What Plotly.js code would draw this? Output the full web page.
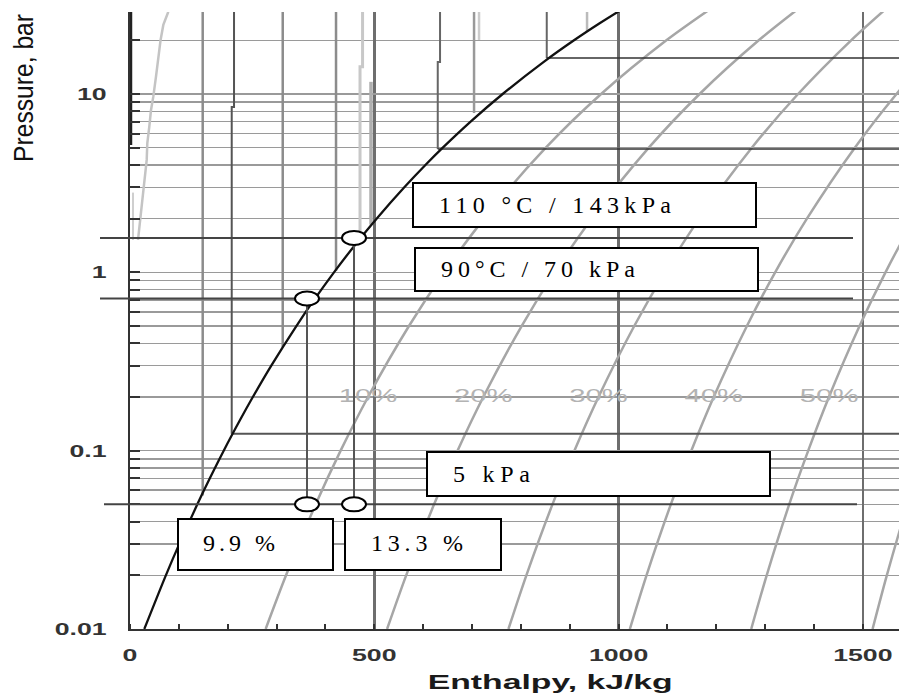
<!DOCTYPE html>
<html>
<head>
<meta charset="utf-8">
<script src="https://cdn.plot.ly/plotly-3.0.1.min.js"></script>
<style>
  html, body { margin: 0; padding: 0; background: #fff; }
  #chart { width: 899px; height: 695px; }
</style>
</head>
<body>
<div id="chart"></div>
<script>
// ---------------- DATA ----------------
// x: enthalpy kJ/kg, y: pressure bar (log axis)
var xTickVals = [0, 500, 1000, 1500];
var xTickText = ['0', '500', '1000', '1500'];
var yTickVals = [0.01, 0.1, 1, 10];
var yTickText = ['0.01', '0.1', '1', '10'];

// saturated liquid line (black)
var satLiquidP = [0.01, 0.02, 0.03, 0.05, 0.07, 0.1, 0.15, 0.2, 0.3, 0.5, 0.7, 1.0, 1.5, 2, 3, 4, 5, 7, 10, 15, 20, 25, 30];
var satLiquidH = [29.3, 73.4, 101.0, 137.8, 163.4, 191.8, 226.0, 251.4, 289.2, 340.5, 376.7, 417.5, 467.1, 504.7, 561.5, 604.7, 640.2, 697.2, 762.8, 844.9, 908.8, 962.1, 1008.4];

// constant-quality lines (grey)
var qualityP = [0.01, 0.02, 0.05, 0.1, 0.2, 0.5, 1, 2, 5, 10, 20, 30];
var quality10H = [277.7, 319.4, 380.1, 431.1, 487.2, 571.0, 643.3, 724.9, 851.1, 964.3, 1097.9, 1188.0];
var quality20H = [526.2, 565.3, 622.4, 670.4, 723.1, 801.6, 869.0, 945.1, 1061.9, 1165.9, 1286.9, 1367.5];
var quality30H = [774.6, 811.3, 864.7, 909.6, 958.9, 1032.1, 1094.8, 1165.3, 1272.8, 1367.4, 1476.0, 1547.1];
var quality40H = [1023.1, 1057.2, 1107.0, 1148.9, 1194.7, 1262.7, 1320.5, 1385.5, 1483.6, 1568.9, 1665.1, 1726.7];
var quality50H = [1271.5, 1303.2, 1349.3, 1388.2, 1430.6, 1493.2, 1546.3, 1605.7, 1694.5, 1770.5, 1854.2, 1906.3];
var quality60H = [1519.9, 1549.1, 1591.6, 1627.5, 1666.4, 1723.7, 1772.0, 1825.8, 1905.3, 1972.0, 2043.2, 2085.8];
var qualityLabels = ['10%', '20%', '30%', '40%', '50%'];
var qualityLabelH = [487, 723, 959, 1195, 1431];
var qualityLabelP = [0.2, 0.2, 0.2, 0.2, 0.2];

// isotherms in the liquid region (near-vertical)
var isoA_H = [1, 1],               isoA_P = [30, 5.18];
var isoB_H = [78.4, 68.2, 62.6, 57.9, 53.2, 47.7, 43.0, 39.5, 35.4, 34.2, 26.6, 20.5, 16.4];
var isoB_P = [28.9, 24.4, 20.1, 15.5, 12.5, 9.66, 8.13, 6.56, 5.29, 4.27, 2.71, 1.96, 1.52];
var isoB2_H = [6.1, 6.1],          isoB2_P = [2.8, 1.52];
var isoC_H = [148.8, 148.8],       isoC_P = [30, 0.056];
var isoD_H = [212.9, 212.9, 208.2, 208.2], isoD_P = [30, 8.45, 8.45, 0.1245];
var isoE_H = [312.6, 312.6],       isoE_P = [30, 0.38];
var isoF_H = [421.7, 421.7],       isoF_P = [30, 1.02];
var isoG_H = [476, 476, 470.8, 470.8], isoG_P = [30, 14.2, 14.2, 1.56];
var isoH_H = [493.3, 493.3],       isoH_P = [11.7, 1.85];
var isoI_H = [634.6, 634.6, 629.9, 629.9], isoI_P = [30, 15.1, 15.1, 4.915];
var isoJ_H = [704.2, 704.2],       isoJ_P = [30, 7.82];
var isoJ2_H = [714.4, 714.4],      isoJ2_P = [30, 20.1];
var isoK_H = [853, 853],           isoK_P = [30, 15.9];
var isoL_H = [935.5, 935.5],       isoL_P = [30, 22.3];

// isotherms in the two-phase region (horizontal)
var twoPhaseP = [15.9, 4.915, 0.1245];
var twoPhaseStartH = [853, 629.9, 208.2];
var twoPhaseEndH = [1600, 1600, 1600];

// marked states and flash lines
var stateH = [458.5, 362.3, 362.3, 458.5];
var stateP = [1.56, 0.713, 0.05, 0.05];
var flash1H = [362.3, 362.3], flash1P = [0.713, 0.05];
var flash2H = [458.5, 458.5], flash2P = [1.56, 0.05];
var refLineP = [1.56, 0.713, 0.05];

var boxLabels = ['110 °C / 143kPa', '90°C / 70 kPa', '5 kPa', '9.9 %', '13.3 %'];

// ---------------- LAYOUT HELPERS ----------------
var W = 899, H = 695, ML = 130, MR = 0, MT = 12, MB = 66;
var PW = W - ML - MR, PH = H - MT - MB;
var YLOG0 = -2, YLOG1 = 1.4598;
var pxPerDecade = PH / (YLOG1 - YLOG0);
function px(x) { return (x - ML) / PW; }
function py(y) { return (H - MB - y) / PH; }

var sans = 'Liberation Sans, Arial, sans-serif';
var serif = 'Liberation Serif, Times New Roman, serif';

function line(x, y, color, width, shape) {
  return { type: 'scatter', mode: 'lines', x: x, y: y, hoverinfo: 'skip',
           line: { color: color, width: width, shape: shape || 'linear', smoothing: 0.8 } };
}

var qCol = '#a6a6a6';
var traces = [
  line(quality10H, qualityP, qCol, 2.5, 'spline'),
  line(quality20H, qualityP, qCol, 2.5, 'spline'),
  line(quality30H, qualityP, qCol, 2.5, 'spline'),
  line(quality40H, qualityP, qCol, 2.5, 'spline'),
  line(quality50H, qualityP, qCol, 2.5, 'spline'),
  line(quality60H, qualityP, qCol, 2.5, 'spline'),
  { type: 'scatter', mode: 'text', x: qualityLabelH, y: qualityLabelP, text: qualityLabels,
    textposition: 'middle center', hoverinfo: 'skip',
    textfont: { family: sans, size: 19, color: '#b3b3b3' } },
  line(isoA_H, isoA_P, '#222', 3.5),
  line(isoB_H, isoB_P, '#c4c4c4', 2.5),
  line(isoB2_H, isoB2_P, '#cfcfcf', 2),
  line(isoC_H, isoC_P, '#8c8c8c', 2.5),
  line(isoD_H, isoD_P, '#555', 2),
  line(isoE_H, isoE_P, '#8c8c8c', 2.5),
  line(isoF_H, isoF_P, '#8c8c8c', 2.5),
  line(isoG_H, isoG_P, '#c8c8c8', 3),
  line(isoH_H, isoH_P, '#b0b0b0', 3.5),
  line(isoI_H, isoI_P, '#666', 2),
  line(isoJ_H, isoJ_P, '#999', 2.5),
  line(isoJ2_H, isoJ2_P, '#cccccc', 2.5),
  line(isoK_H, isoK_P, '#666', 2),
  line(isoL_H, isoL_P, '#bbbbbb', 2.5),
  line([twoPhaseStartH[0], twoPhaseEndH[0]], [twoPhaseP[0], twoPhaseP[0]], '#333', 1.5),
  line([twoPhaseStartH[1], twoPhaseEndH[1]], [twoPhaseP[1], twoPhaseP[1]], '#333', 1.5),
  line([twoPhaseStartH[2], twoPhaseEndH[2]], [twoPhaseP[2], twoPhaseP[2]], '#555', 2),
  line(satLiquidH, satLiquidP, '#111', 2.3, 'spline'),
  line(flash1H, flash1P, '#555', 2),
  line(flash2H, flash2P, '#555', 2)
];

var shapes = [];
// reference pressure lines, extending into the left margin
var refX = [[-30, 853], [-30, 853], [-26, 857]];
refLineP.forEach(function (p, i) {
  shapes.push({ type: 'line', xref: 'paper', yref: 'y',
    x0: refX[i][0] / PW, x1: px(refX[i][1]), y0: p, y1: p,
    line: { color: '#444', width: 2 }, layer: 'above' });
});
// state markers (ellipses, 24 x 14 px)
var halfH = Math.pow(10, 7 / pxPerDecade);
stateH.forEach(function (h, i) {
  shapes.push({ type: 'circle', xref: 'x', yref: 'y', xsizemode: 'pixel',
    xanchor: h, x0: -12, x1: 12, y0: stateP[i] / halfH, y1: stateP[i] * halfH,
    fillcolor: '#fff', line: { color: '#000', width: 2 }, layer: 'above' });
});
// label boxes [left, top, right, bottom] in px
var boxes = [[413, 183, 756, 227], [415, 248, 758, 291], [427, 452, 770, 496], [178, 519, 333, 570], [345, 519, 501, 570]];
boxes.forEach(function (b) {
  shapes.push({ type: 'rect', xref: 'paper', yref: 'paper',
    x0: px(b[0]), x1: px(b[2]), y0: py(b[3]), y1: py(b[1]),
    fillcolor: '#fff', line: { color: '#000', width: 2 }, layer: 'above' });
});

var textPos = [[437, 205], [439, 269.5], [451, 474], [201, 543], [369, 543]];
var annotations = boxLabels.map(function (t, i) {
  return { text: t, xref: 'paper', yref: 'paper', x: px(textPos[i][0]), y: py(textPos[i][1]),
    xanchor: 'left', yanchor: 'middle', showarrow: false, align: 'left',
    font: { family: serif, size: 24, color: '#000' } };
});
annotations.push({ text: 'Enthalpy, kJ/kg', xref: 'paper', yref: 'paper', x: px(550), y: py(681),
  xanchor: 'center', yanchor: 'middle', showarrow: false,
  font: { family: sans, size: 21, color: '#1a1a1a', weight: 'bold' } });
annotations.push({ text: 'Pressure, bar', xref: 'paper', yref: 'paper', x: px(24), y: py(88),
  xanchor: 'center', yanchor: 'middle', showarrow: false, textangle: -90,
  font: { family: sans, size: 27, color: '#111' } });

var tickFont = { family: sans, size: 17, color: '#333', weight: 'bold' };

var layout = {
  width: W, height: H,
  margin: { l: ML, r: MR, t: MT, b: MB, pad: 0 },
  paper_bgcolor: '#fff', plot_bgcolor: '#fff',
  showlegend: false,
  xaxis: {
    type: 'linear', range: [0, 1574], autorange: false,
    tickmode: 'array', tickvals: xTickVals, ticktext: xTickText,
    ticks: '', tickfont: tickFont, ticklabelstandoff: 10,
    showgrid: true, gridcolor: '#6e6e6e', gridwidth: 2.5,
    showline: true, linecolor: '#333', linewidth: 2, zeroline: false,
    minor: { dtick: 100, ticks: 'inside', ticklen: 5, tickwidth: 2, tickcolor: '#333', showgrid: false }
  },
  yaxis: {
    type: 'log', range: [YLOG0, YLOG1], autorange: false,
    tickmode: 'array', tickvals: yTickVals, ticktext: yTickText,
    ticks: 'inside', ticklen: 10, tickwidth: 2, tickcolor: '#333',
    tickfont: tickFont, ticklabelstandoff: 18,
    showgrid: true, gridcolor: '#9a9a9a', gridwidth: 1.5,
    showline: true, linecolor: '#333', linewidth: 2, zeroline: false,
    minor: { dtick: 'D1', ticks: 'inside', ticklen: 10, tickwidth: 2, tickcolor: '#333',
             showgrid: true, gridcolor: '#9a9a9a', gridwidth: 1.5 }
  },
  shapes: shapes,
  annotations: annotations
};

// text widths (the reference uses horizontally stretched lettering)
var fixedWidths = {
  'Enthalpy, kJ/kg': [245, 'spacingAndGlyphs'],
  'Pressure, bar': [148, 'spacingAndGlyphs'],
  '110 °C / 143kPa': [232, 'spacing'],
  '90°C / 70 kPa': [194, 'spacing'],
  '5 kPa': [77, 'spacing'],
  '9.9 %': [72, 'spacing'],
  '13.3 %': [92, 'spacing']
};
function stretch(gd) {
  gd.querySelectorAll('text').forEach(function (t) {
    if (!t.hasAttribute('data-base-len')) {
      t.setAttribute('data-base-len', t.getComputedTextLength());
    }
    var base = +t.getAttribute('data-base-len');
    if (!base) return;
    var key = t.getAttribute('data-unformatted') || t.textContent;
    var cls = (t.parentNode && t.parentNode.getAttribute && t.parentNode.getAttribute('class')) || '';
    var target = null, mode = 'spacingAndGlyphs';
    if (fixedWidths[key]) { target = fixedWidths[key][0]; mode = fixedWidths[key][1]; }
    else if (/xtick|ytick/.test(cls)) { target = base * 1.57; }
    else if (t.closest('.textpoint')) { target = base * 1.54; }
    if (target) { t.setAttribute('textLength', target); t.setAttribute('lengthAdjust', mode); }
  });
}

var gd = document.getElementById('chart');
Plotly.newPlot(gd, traces, layout, { displayModeBar: false, staticPlot: true }).then(function () {
  stretch(gd);
  gd.on('plotly_afterplot', function () { stretch(gd); });
});
</script>
</body>
</html>
